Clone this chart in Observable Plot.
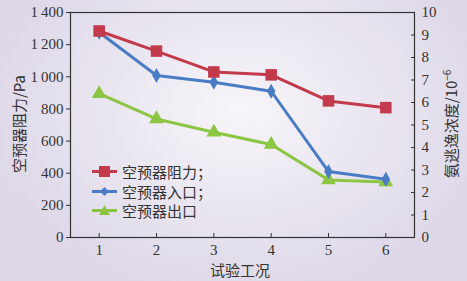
<!DOCTYPE html>
<html><head><meta charset="utf-8">
<script src="https://cdn.jsdelivr.net/npm/d3@7"></script>
<script src="https://cdn.jsdelivr.net/npm/@observablehq/plot@0.6"></script>
<style>
html,body{margin:0;padding:0;}
#wrap{position:relative;width:467px;height:281px;overflow:hidden;
 background:radial-gradient(ellipse 260px 190px at 240px 110px,#f7f5fa 0%,#e9e5f0 55%,#ddd7e7 100%);}
#wrap svg{display:block;}
#wrap svg text{font-family:"Liberation Serif","DejaVu Serif",serif;}
.lbl{position:absolute;font-family:"Noto Sans CJK SC",sans-serif;font-size:15px;color:#333;white-space:nowrap;}
#legend{position:absolute;left:92px;top:162px;font-family:"Noto Sans CJK SC",sans-serif;font-size:15px;color:#333;}
#legend .row{display:flex;align-items:center;height:19.5px;}
#legend svg{margin-right:5px;}
</style></head>
<body><div id="wrap"></div>
<script>
const cases = [1, 2, 3, 4, 5, 6];
const resistance = [1285, 1160, 1030, 1012, 850, 808];      // 空预器阻力 /Pa (left axis)
const inletNH3 = [9.12, 7.2, 6.9, 6.5, 2.93, 2.59];        // 空预器入口 /10^-6 (right axis)
const outletNH3 = [6.39, 5.27, 4.68, 4.13, 2.56, 2.47];    // 空预器出口 /10^-6 (right axis)
const leftTicks = [0, 200, 400, 600, 800, 1000, 1200, 1400];
const rightTicks = [0, 1, 2, 3, 4, 5, 6, 7, 8, 9, 10];
const seriesNames = ["空预器阻力；", "空预器入口；", "空预器出口"];
const colors = ["#c23a4c", "#4a7cc4", "#8cc543"];

const k = 140; // right axis 0..10 mapped onto left 0..1400
const red = cases.map((x, i) => ({x, y: resistance[i]}));
const blue = cases.map((x, i) => ({x, y: inletNH3[i] * k}));
const green = cases.map((x, i) => ({x, y: outletNH3[i] * k}));

const fmt = d => d >= 1000 ? d3.format(",")(d).replace(",", "\u2009") : String(d);
const serif = "Liberation Serif, serif";

const plot = Plot.plot({
  width: 467, height: 281,
  marginLeft: 70, marginRight: 53, marginTop: 12, marginBottom: 44,
  style: {background: "transparent", fontFamily: serif, fontSize: "15px", color: "#333"},
  x: {domain: [0.5, 6.5]},
  y: {domain: [0, 1400]},
  marks: [
    Plot.frame({stroke: "#333", strokeWidth: 1.2}),
    Plot.axisY(leftTicks, {anchor: "left", tickSize: 4, tickPadding: 3, tickFormat: fmt, label: null, stroke: "#333", fill: "#333", fontFamily: serif}),
    Plot.axisY(rightTicks.map(d => d * k), {anchor: "right", tickSize: -4, tickPadding: 11, tickFormat: d => d / k, label: null, stroke: "#333", fill: "#333", fontFamily: serif}),
    Plot.axisX(cases, {anchor: "bottom", tickSize: -4, tickPadding: 11, tickFormat: d => d, label: null, stroke: "#333", fill: "#333", fontFamily: serif}),
    Plot.line(green, {x: "x", y: "y", stroke: colors[2], strokeWidth: 3}),
    Plot.dot(green, {x: "x", y: "y", symbol: "triangle", fill: colors[2], r: 5.5}),
    Plot.line(blue, {x: "x", y: "y", stroke: colors[1], strokeWidth: 3}),
    Plot.dot(blue, {x: "x", y: "y", symbol: "diamond", fill: colors[1], r: 4.5}),
    Plot.line(red, {x: "x", y: "y", stroke: colors[0], strokeWidth: 3}),
    Plot.dot(red, {x: "x", y: "y", symbol: "square", fill: colors[0], r: 6.5})
  ]
});
const wrap = document.getElementById("wrap");
wrap.appendChild(plot);

function addLabel(text, css) {
  const d = document.createElement("div");
  d.className = "lbl"; d.textContent = text;
  Object.assign(d.style, css);
  wrap.appendChild(d);
  return d;
}
addLabel("空预器阻力/Pa", {left: "18px", top: "124px", transform: "translate(-50%,-50%) rotate(-90deg)"});
const r = addLabel("", {left: "450px", top: "124px", transform: "translate(-50%,-50%) rotate(-90deg)"});
r.innerHTML = "氨逃逸浓度/10<sup style='font-size:10px'>−6</sup>";
addLabel("试验工况", {left: "240px", top: "269px", transform: "translate(-50%,-50%)"});

const legend = document.createElement("div");
legend.id = "legend";
const syms = ["square", "diamond", "triangle"];
seriesNames.forEach((name, i) => {
  const row = document.createElement("div"); row.className = "row";
  let shape;
  if (syms[i] === "square") shape = `<rect x="7" y="4" width="11" height="11" fill="${colors[i]}"/>`;
  else if (syms[i] === "diamond") shape = `<path d="M12.5 5 L17 9.5 L12.5 14 L8 9.5Z" fill="${colors[i]}"/>`;
  else shape = `<path d="M12.5 4 L18 14 L7 14Z" fill="${colors[i]}"/>`;
  row.innerHTML = `<svg width="25" height="19"><line x1="0" x2="25" y1="9.5" y2="9.5" stroke="${colors[i]}" stroke-width="3"/>${shape}</svg><span>${name}</span>`;
  legend.appendChild(row);
});
wrap.appendChild(legend);
</script>
</body></html>
